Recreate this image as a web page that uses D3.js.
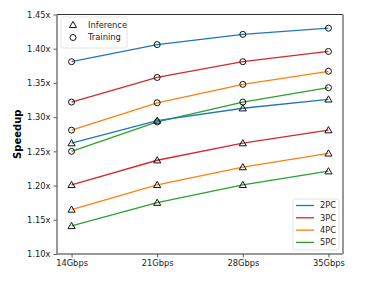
<!DOCTYPE html>
<html>
<head>
<meta charset="utf-8">
<script src="https://cdn.jsdelivr.net/npm/d3@7"></script>
<style>
  body { margin: 0; background: #fff; }
  text { font-family: 'DejaVu Sans', sans-serif; }
</style>
</head>
<body>
<div id="chart"></div>
<script>
// bandwidth categories
var bandwidths = ['14Gbps', '21Gbps', '28Gbps', '35Gbps']
var configs = ['2PC', '3PC', '4PC', '5PC']
var colours = ['#1f77b4', '#d62728', '#ff7f0e', '#2ca02c']

// speedup values
var training2PC = [1.381, 1.406, 1.421, 1.430]
var training3PC = [1.322, 1.358, 1.381, 1.396]
var training4PC = [1.281, 1.321, 1.348, 1.367]
var training5PC = [1.250, 1.293, 1.322, 1.343]
var inference2PC = [1.262, 1.295, 1.313, 1.326]
var inference3PC = [1.201, 1.237, 1.262, 1.281]
var inference4PC = [1.165, 1.201, 1.227, 1.247]
var inference5PC = [1.141, 1.175, 1.201, 1.221]

var yTicks = [1.10, 1.15, 1.20, 1.25, 1.30, 1.35, 1.40, 1.45]

var series = [
  { cfg: '2PC', kind: 'train', values: training2PC },
  { cfg: '3PC', kind: 'train', values: training3PC },
  { cfg: '4PC', kind: 'train', values: training4PC },
  { cfg: '5PC', kind: 'train', values: training5PC },
  { cfg: '2PC', kind: 'inf', values: inference2PC },
  { cfg: '3PC', kind: 'inf', values: inference3PC },
  { cfg: '4PC', kind: 'inf', values: inference4PC },
  { cfg: '5PC', kind: 'inf', values: inference5PC }
]

var width = 381
var height = 286
var margin = { left: 57, right: 38, top: 14.5, bottom: 32 }

var svg = d3.select('#chart').append('svg')
  .attr('width', width)
  .attr('height', height)

var x = d3.scalePoint()
  .domain(bandwidths)
  .range([margin.left, width - margin.right])
  .padding(0.17)

var y = d3.scaleLinear()
  .domain([1.10, 1.45])
  .range([height - margin.bottom, margin.top])

var colour = d3.scaleOrdinal().domain(configs).range(colours)

// axes
var xAxis = svg.append('g')
  .attr('transform', `translate(0,${height - margin.bottom})`)
  .call(d3.axisBottom(x).tickSize(3.5).tickPadding(3))
var yAxis = svg.append('g')
  .attr('transform', `translate(${margin.left},0)`)
  .call(d3.axisLeft(y).tickValues(yTicks).tickFormat(d => d3.format('.2f')(d) + 'x').tickSize(3.5).tickPadding(3))

;[xAxis, yAxis].forEach(a => {
  a.select('.domain').remove()
  a.selectAll('text').attr('font-size', 8.3).attr('fill', '#222').attr('font-family', 'DejaVu Sans, sans-serif')
  a.selectAll('line').attr('stroke', '#333').attr('stroke-width', 0.8)
})

// frame
var x0 = margin.left
var x1 = width - margin.right
var y0 = margin.top
var y1 = height - margin.bottom
svg.append('line').attr('x1', x0).attr('x2', x1).attr('y1', y0).attr('y2', y0).attr('stroke', '#333').attr('stroke-width', 1)
svg.append('line').attr('x1', x0).attr('x2', x1).attr('y1', y1).attr('y2', y1).attr('stroke', '#333').attr('stroke-width', 1)
svg.append('line').attr('x1', x0).attr('x2', x0).attr('y1', y0).attr('y2', y1).attr('stroke', '#777').attr('stroke-width', 1.5)
svg.append('line').attr('x1', x1).attr('x2', x1).attr('y1', y0).attr('y2', y1).attr('stroke', '#999').attr('stroke-width', 2)

// y label
svg.append('text')
  .attr('transform', `translate(21,${(y0 + y1) / 2}) rotate(-90)`)
  .attr('text-anchor', 'middle')
  .attr('font-size', 10)
  .attr('font-weight', 'bold')
  .text('Speedup')

var line = d3.line()
  .x((d, i) => x(bandwidths[i]))
  .y(d => y(d))

var tri = d3.symbol().type(d3.symbolTriangle).size(22)

series.forEach(s => {
  svg.append('path')
    .attr('d', line(s.values))
    .attr('fill', 'none')
    .attr('stroke', colour(s.cfg))
    .attr('stroke-width', 1.3)

  var pts = svg.append('g').selectAll('g')
    .data(s.values)
    .join('g')
    .attr('transform', (d, i) => `translate(${x(bandwidths[i])},${y(d)})`)
  if (s.kind === 'train') {
    pts.append('circle').attr('r', 3).attr('fill', 'none').attr('stroke', '#111').attr('stroke-width', 1)
  } else {
    pts.append('path').attr('d', tri).attr('transform', 'translate(0,0.6)').attr('fill', 'none').attr('stroke', '#111').attr('stroke-width', 1)
  }
})

// marker legend
var leg1 = svg.append('g')
leg1.append('rect').attr('x', 61).attr('y', 17).attr('width', 66).attr('height', 31).attr('rx', 2)
  .attr('fill', '#fff').attr('fill-opacity', 0.8).attr('stroke', '#ddd').attr('stroke-width', 0.8)
leg1.append('path').attr('d', tri).attr('transform', 'translate(73,25.5)').attr('fill', 'none').attr('stroke', '#111').attr('stroke-width', 1)
leg1.append('circle').attr('cx', 73).attr('cy', 37.5).attr('r', 3).attr('fill', 'none').attr('stroke', '#111').attr('stroke-width', 1)
leg1.append('text').attr('x', 88).attr('y', 25).attr('dy', '0.35em').attr('font-size', 8.3).attr('fill', '#222').text('Inference')
leg1.append('text').attr('x', 88).attr('y', 37.5).attr('dy', '0.35em').attr('font-size', 8.3).attr('fill', '#222').text('Training')

// colour legend
var leg2 = svg.append('g')
leg2.append('rect').attr('x', 293).attr('y', 199).attr('width', 46).attr('height', 51).attr('rx', 2)
  .attr('fill', '#fff').attr('fill-opacity', 0.8).attr('stroke', '#ddd').attr('stroke-width', 0.8)
configs.forEach((c, i) => {
  var yy = 205.5 + i * 12.3
  leg2.append('line').attr('x1', 296).attr('x2', 314).attr('y1', yy).attr('y2', yy)
    .attr('stroke', colour(c)).attr('stroke-width', 1.3)
  leg2.append('text').attr('x', 320).attr('y', yy).attr('dy', '0.35em').attr('font-size', 8.3).attr('fill', '#222').text(c)
})
</script>
</body>
</html>
